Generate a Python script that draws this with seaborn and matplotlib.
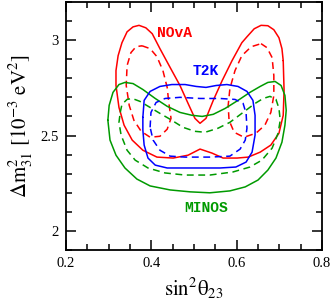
import numpy as np
import pandas as pd
import matplotlib
matplotlib.use("Agg")
import matplotlib.pyplot as plt
import seaborn as sns
from matplotlib.ticker import MultipleLocator, FuncFormatter

# --------------------------------------------------
# Contours (sin^2 theta23, dm^2_31 [1e-3 eV^2])
# solid = 90% CL, dashed = 68% CL
# --------------------------------------------------
nova_90_x = [0.709, 0.711, 0.709, 0.699, 0.680, 0.655, 0.627, 0.601, 0.568, 0.542, 0.514,
             0.486, 0.451, 0.413, 0.380, 0.355, 0.336, 0.324, 0.317, 0.317, 0.322, 0.331,
             0.343, 0.357, 0.371, 0.387, 0.402, 0.420, 0.444, 0.467, 0.486, 0.502, 0.514,
             0.528, 0.545, 0.566, 0.589, 0.612, 0.624, 0.641, 0.657, 0.673, 0.687, 0.699,
             0.706, 0.709]
nova_90_y = [2.892, 2.736, 2.606, 2.512, 2.450, 2.413, 2.387, 2.382, 2.382, 2.408, 2.429,
             2.397, 2.382, 2.387, 2.423, 2.476, 2.554, 2.647, 2.762, 2.840, 2.918, 2.986,
             3.043, 3.069, 3.077, 3.064, 3.033, 2.955, 2.856, 2.762, 2.668, 2.590, 2.564,
             2.590, 2.684, 2.788, 2.892, 2.986, 3.017, 3.059, 3.077, 3.075, 3.054, 3.012,
             2.955, 2.892]

nova_68_left_x = [0.378, 0.397, 0.413, 0.427, 0.437, 0.441, 0.446, 0.437, 0.420, 0.397,
                  0.376, 0.359, 0.348, 0.341, 0.343, 0.352, 0.364, 0.378]
nova_68_left_y = [2.970, 2.955, 2.913, 2.840, 2.752, 2.668, 2.590, 2.533, 2.496, 2.491,
                  2.522, 2.580, 2.658, 2.762, 2.866, 2.934, 2.965, 2.970]

nova_68_right_x = [0.657, 0.671, 0.683, 0.687, 0.687, 0.680, 0.666, 0.645, 0.617, 0.594,
                   0.582, 0.580, 0.584, 0.596, 0.612, 0.634, 0.657]
nova_68_right_y = [2.981, 2.960, 2.908, 2.814, 2.710, 2.621, 2.554, 2.512, 2.491, 2.517,
                   2.580, 2.658, 2.746, 2.840, 2.918, 2.965, 2.981]

t2k_90_x = [0.380, 0.383, 0.397, 0.420, 0.448, 0.479, 0.505, 0.528, 0.552, 0.577, 0.603,
            0.624, 0.638, 0.643, 0.643, 0.636, 0.622, 0.598, 0.561, 0.491, 0.437, 0.409,
            0.392, 0.383, 0.380, 0.380]
t2k_90_y = [2.595, 2.684, 2.731, 2.757, 2.767, 2.767, 2.757, 2.752, 2.762, 2.767, 2.757,
            2.731, 2.684, 2.606, 2.502, 2.413, 2.361, 2.335, 2.330, 2.330, 2.330, 2.345,
            2.382, 2.450, 2.528, 2.595]

t2k_68_x = [0.397, 0.399, 0.411, 0.432, 0.467, 0.514, 0.561, 0.596, 0.615, 0.622, 0.624,
            0.620, 0.608, 0.584, 0.537, 0.479, 0.444, 0.420, 0.404, 0.397]
t2k_68_y = [2.543, 2.621, 2.673, 2.694, 2.700, 2.694, 2.694, 2.689, 2.668, 2.616, 2.538,
            2.476, 2.429, 2.392, 2.387, 2.387, 2.392, 2.423, 2.476, 2.543]

minos_90_x = [0.298, 0.301, 0.310, 0.324, 0.338, 0.357, 0.380, 0.409, 0.437, 0.467, 0.495,
              0.519, 0.545, 0.573, 0.603, 0.631, 0.655, 0.673, 0.690, 0.704, 0.713, 0.716,
              0.713, 0.706, 0.692, 0.673, 0.650, 0.620, 0.584, 0.537, 0.491, 0.444, 0.397,
              0.366, 0.338, 0.317, 0.303, 0.298]
minos_90_y = [2.580, 2.658, 2.726, 2.767, 2.778, 2.772, 2.741, 2.694, 2.653, 2.621, 2.606,
              2.600, 2.611, 2.642, 2.684, 2.726, 2.757, 2.778, 2.783, 2.762, 2.710, 2.632,
              2.554, 2.465, 2.382, 2.319, 2.267, 2.231, 2.210, 2.200, 2.205, 2.215, 2.236,
              2.272, 2.330, 2.397, 2.476, 2.580]

minos_68_x = [0.327, 0.331, 0.343, 0.355, 0.373, 0.397, 0.420, 0.444, 0.474, 0.502, 0.526,
              0.556, 0.584, 0.615, 0.643, 0.662, 0.678, 0.692, 0.699, 0.702, 0.697, 0.683,
              0.659, 0.631, 0.591, 0.537, 0.479, 0.432, 0.392, 0.362, 0.343, 0.329, 0.324,
              0.327]
minos_68_y = [2.621, 2.663, 2.689, 2.694, 2.679, 2.647, 2.616, 2.585, 2.543, 2.522, 2.517,
              2.538, 2.569, 2.621, 2.668, 2.694, 2.705, 2.689, 2.642, 2.580, 2.512, 2.434,
              2.371, 2.335, 2.309, 2.293, 2.293, 2.304, 2.330, 2.371, 2.423, 2.502, 2.569,
              2.621]

labels = ["NOvA", "T2K", "MINOS"]
label_x = [0.455, 0.527, 0.528]
label_y = [3.038, 2.840, 2.119]

RED, BLUE, GREEN = "#ff0000", "#0000ff", "#009a00"

contours = [
    (nova_90_x, nova_90_y, RED, "-"),
    (nova_68_left_x, nova_68_left_y, RED, "--"),
    (nova_68_right_x, nova_68_right_y, RED, "--"),
    (minos_90_x, minos_90_y, GREEN, "-"),
    (minos_68_x, minos_68_y, GREEN, "--"),
    (t2k_90_x, t2k_90_y, BLUE, "-"),
    (t2k_68_x, t2k_68_y, BLUE, "--"),
]
label_colors = [RED, BLUE, GREEN]

sns.set_style("ticks", {"axes.edgecolor": "black", "xtick.color": "black",
                        "ytick.color": "black", "text.color": "black",
                        "axes.labelcolor": "black"})
plt.rcParams["font.family"] = ["Liberation Serif", "DejaVu Serif"]
plt.rcParams["mathtext.fontset"] = "stix"

fig = plt.figure(figsize=(3.32, 3.08), dpi=100)
ax = fig.add_axes([0.199, 0.188, 0.771, 0.806])

for xs, ys, color, ls in contours:
    df = pd.DataFrame({"x": xs, "y": ys})
    style = "-" if ls == "-" else (0, (4.5, 3))
    sns.lineplot(data=df, x="x", y="y", sort=False, estimator=None,
                 color=color, lw=1.1, linestyle=style, ax=ax)

for txt, tx, ty, c in zip(labels, label_x, label_y, label_colors):
    ax.text(tx, ty, txt, color=c, ha="center", va="center",
            family="Liberation Mono", fontweight="bold", fontsize=10.5)

ax.set_xlim(0.2, 0.8)
ax.set_ylim(1.9, 3.2)
ax.xaxis.set_major_locator(MultipleLocator(0.2))
ax.xaxis.set_minor_locator(MultipleLocator(0.05))
ax.yaxis.set_major_locator(MultipleLocator(0.5))
ax.yaxis.set_minor_locator(MultipleLocator(0.1))
fmt = FuncFormatter(lambda v, p: f"{v:g}")
ax.xaxis.set_major_formatter(fmt)
ax.yaxis.set_major_formatter(fmt)
ax.tick_params(which="both", direction="in", top=True, right=True,
               width=1.1, labelsize=10.5, pad=5)
ax.tick_params(which="major", length=7.5)
ax.tick_params(which="minor", length=4)
for sp in ax.spines.values():
    sp.set_linewidth(1.3)

ax.set_xlabel(r"$\mathrm{sin^2\theta_{23}}$", fontsize=15, labelpad=4)
ax.set_ylabel(r"$\mathrm{\Delta m^2_{31}\ [10^{-3}\ eV^2]}$", fontsize=15, labelpad=4)

fig.savefig("out.png", dpi=100)
